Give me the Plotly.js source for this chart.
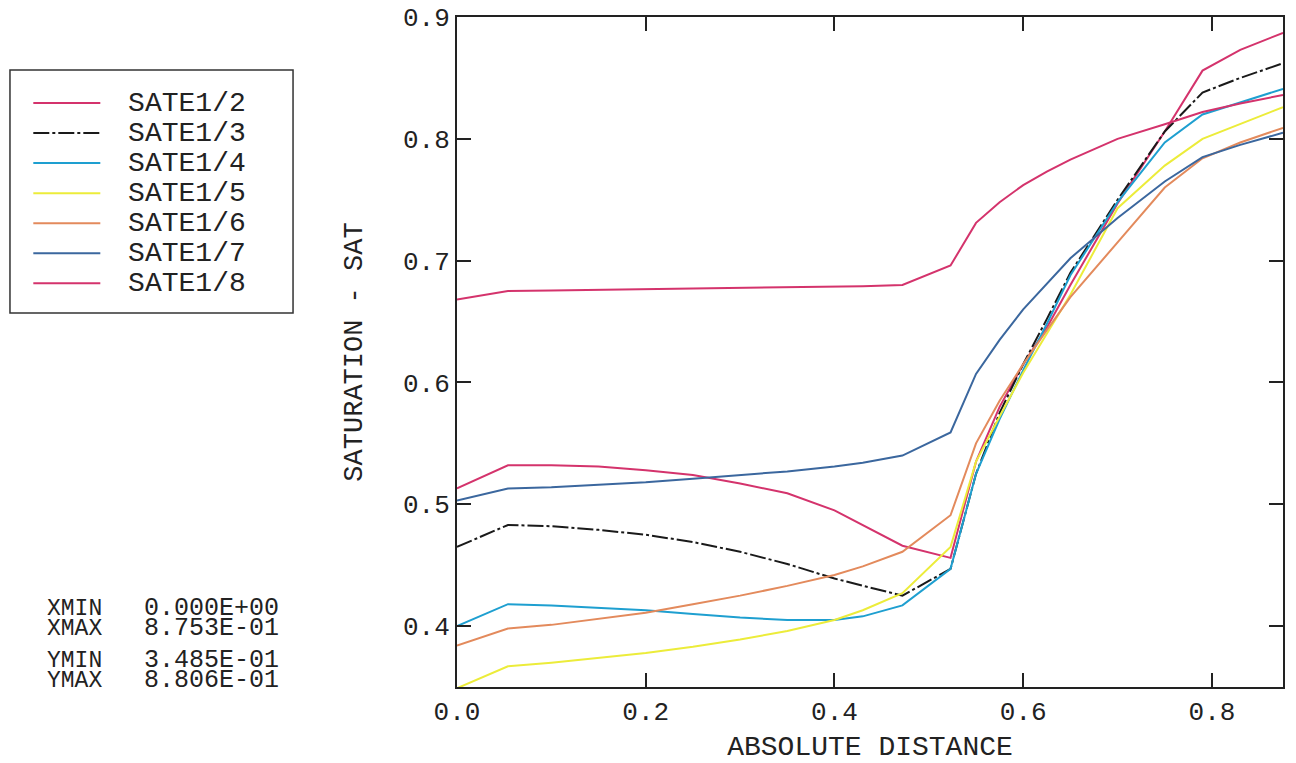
<!DOCTYPE html>
<html><head><meta charset="utf-8">
<script src="https://cdn.plot.ly/plotly-3.0.1.min.js"></script>
<style>html,body{margin:0;padding:0;background:#fff;} #chart{width:1296px;height:763px;}</style>
</head><body><div id="chart"></div>
<script>
// Absolute distance nodes
const distance = [0, 0.054, 0.1, 0.15, 0.2, 0.25, 0.3, 0.35, 0.4, 0.43, 0.472, 0.523, 0.55, 0.575, 0.6, 0.625, 0.65, 0.7, 0.75, 0.79, 0.83, 0.8753];

const seriesNames = ['SATE1/2', 'SATE1/3', 'SATE1/4', 'SATE1/5', 'SATE1/6', 'SATE1/7', 'SATE1/8'];

const sate1_2 = [0.513, 0.532, 0.532, 0.531, 0.528, 0.524, 0.517, 0.509, 0.495, 0.483, 0.466, 0.456, 0.535, 0.580, 0.615, 0.645, 0.680, 0.747, 0.806, 0.856, 0.873, 0.887];
const sate1_3 = [0.465, 0.483, 0.482, 0.479, 0.475, 0.469, 0.461, 0.451, 0.439, 0.433, 0.425, 0.447, 0.525, 0.575, 0.615, 0.652, 0.690, 0.750, 0.806, 0.838, 0.850, 0.862];
const sate1_4 = [0.400, 0.418, 0.417, 0.415, 0.413, 0.410, 0.407, 0.405, 0.405, 0.408, 0.417, 0.447, 0.525, 0.570, 0.610, 0.648, 0.688, 0.748, 0.797, 0.820, 0.830, 0.841];
const sate1_5 = [0.349, 0.367, 0.370, 0.374, 0.378, 0.383, 0.389, 0.396, 0.405, 0.413, 0.427, 0.465, 0.535, 0.572, 0.608, 0.640, 0.672, 0.743, 0.778, 0.800, 0.812, 0.826];
const sate1_6 = [0.384, 0.398, 0.401, 0.406, 0.411, 0.418, 0.425, 0.433, 0.442, 0.449, 0.461, 0.491, 0.550, 0.585, 0.615, 0.643, 0.670, 0.715, 0.760, 0.784, 0.797, 0.809];
const sate1_7 = [0.503, 0.513, 0.514, 0.516, 0.518, 0.521, 0.524, 0.527, 0.531, 0.534, 0.540, 0.559, 0.607, 0.635, 0.660, 0.681, 0.702, 0.735, 0.765, 0.785, 0.795, 0.805];
const sate1_8 = [0.668, 0.675, 0.6755, 0.676, 0.677, 0.6775, 0.678, 0.678, 0.679, 0.679, 0.680, 0.696, 0.731, 0.748, 0.762, 0.773, 0.783, 0.800, 0.812, 0.822, 0.829, 0.836];

const xTickVals = [0, 0.2, 0.4, 0.6, 0.8];
const xTickText = ['0.0', '0.2', '0.4', '0.6', '0.8'];
const yTickVals = [0.4, 0.5, 0.6, 0.7, 0.8, 0.9];
const yTickText = ['0.4', '0.5', '0.6', '0.7', '0.8', '0.9'];

const xRangeLabels = ['XMIN', 'XMAX'];
const xRangeValues = ['0.000E+00', '8.753E-01'];
const yRangeLabels = ['YMIN', 'YMAX'];
const yRangeValues = ['3.485E-01', '8.806E-01'];

const allSeries = [sate1_2, sate1_3, sate1_4, sate1_5, sate1_6, sate1_7, sate1_8];
const colors = ['#d4336c', '#1a1a1a', '#1e9fd0', '#ecec3a', '#e38a5c', '#3b679e', '#d4336c'];
const dashes = ['solid', '16px,3px,3px,3px', 'solid', 'solid', 'solid', 'solid', 'solid'];

const traces = allSeries.map((ys, i) => ({
  type: 'scatter', mode: 'lines',
  x: distance, y: ys,
  name: '<span style="font-size:38px">\u00A0</span><span style="font-size:28px">' + seriesNames[i] + '</span>',
  line: {color: colors[i], width: 2, dash: dashes[i]},
  hoverinfo: 'skip'
}));

const monoFont = 'Liberation Mono, monospace';
const axisCommon = {
  ticks: 'inside', ticklen: 14, tickwidth: 2, tickcolor: '#222',
  showline: true, linecolor: '#222', linewidth: 2, mirror: 'ticks',
  showgrid: false, zeroline: false,
  tickfont: {size: 26, color: '#222', family: monoFont}
};

function stacked(items, size) {
  return items.map(t => '<span style="font-size:' + size + 'px">' + t + '</span>').join('<br>');
}

const annotations = [
  {xref: 'paper', yref: 'paper', x: -0.4988, y: 0.1015, xanchor: 'left', yanchor: 'middle',
   text: stacked(xRangeLabels, 23), showarrow: false, align: 'left', font: {size: 15.4, color: '#222', family: monoFont}},
  {xref: 'paper', yref: 'paper', x: -0.3814, y: 0.1015, xanchor: 'left', yanchor: 'middle',
   text: stacked(xRangeValues, 25), showarrow: false, align: 'left', font: {size: 15.4, color: '#222', family: monoFont}},
  {xref: 'paper', yref: 'paper', x: -0.4988, y: 0.0246, xanchor: 'left', yanchor: 'middle',
   text: stacked(yRangeLabels, 23), showarrow: false, align: 'left', font: {size: 15.4, color: '#222', family: monoFont}},
  {xref: 'paper', yref: 'paper', x: -0.3814, y: 0.0246, xanchor: 'left', yanchor: 'middle',
   text: stacked(yRangeValues, 25), showarrow: false, align: 'left', font: {size: 15.4, color: '#222', family: monoFont}}
];

const layout = {
  width: 1296, height: 763,
  margin: {l: 457, r: 13, t: 17, b: 76},
  paper_bgcolor: '#fff', plot_bgcolor: '#fff',
  font: {family: monoFont, color: '#222'},
  showlegend: true,
  xaxis: Object.assign({}, axisCommon, {
    range: [0, 0.8753], tickmode: 'array', tickvals: xTickVals, ticktext: xTickText,
    title: {text: 'ABSOLUTE DISTANCE', font: {size: 28, color: '#222'}, standoff: 12}
  }),
  yaxis: Object.assign({}, axisCommon, {
    range: [0.35, 0.9], tickmode: 'array', tickvals: yTickVals, ticktext: yTickText,
    title: {text: 'SATURATION - SAT', font: {size: 27, color: '#222'}, standoff: 33}
  }),
  legend: {
    x: -0.519, xanchor: 'left', y: 0.9015, yanchor: 'top',
    bgcolor: 'rgba(0,0,0,0)', borderwidth: 0,
    font: {size: 20.8, color: '#222'}, itemwidth: 67
  },
  shapes: [
    {type: 'rect', xref: 'paper', yref: 'paper', x0: -0.5412, x1: -0.1985, y0: 0.5582, y1: 0.9209,
     line: {color: '#333', width: 1.5}, fillcolor: 'rgba(0,0,0,0)', layer: 'below'}
  ],
  annotations: annotations
};

Plotly.newPlot('chart', traces, layout, {displayModeBar: false, staticPlot: true});
</script>
</body></html>
